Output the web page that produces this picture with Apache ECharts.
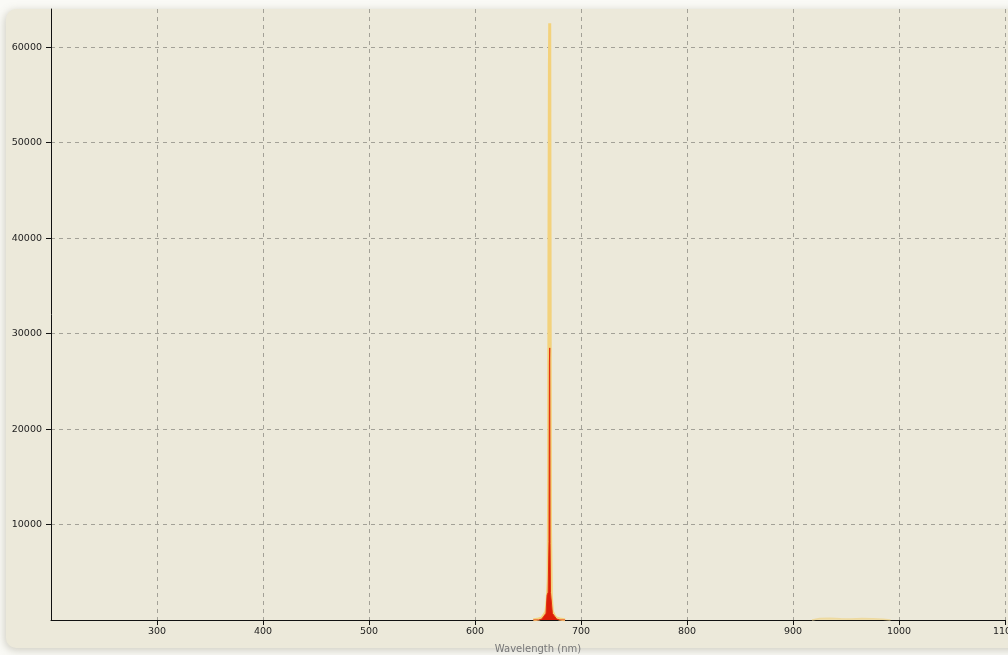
<!DOCTYPE html>
<html>
<head>
<meta charset="utf-8">
<script src="https://cdn.jsdelivr.net/npm/echarts@6/dist/echarts.min.js"></script>
<style>
  html, body { margin: 0; padding: 0; background: #fafaf6; }
  #chart { width: 1008px; height: 655px; }
</style>
</head>
<body>
<div id="chart"></div>
<script>
// Emission spectrum around the 670 nm line (intensity counts vs wavelength)
const peakWavelengths = [655, 660, 663, 665, 667, 668, 669, 669.5, 669.8, 670.2, 670.5, 670.8, 671.2, 672, 673, 675, 677, 680, 685];
const goldIntensity   = [0, 100, 200, 500, 900, 2000, 4000, 15000, 40000, 58000, 62500, 40000, 10000, 2500, 900, 400, 200, 100, 0];
const redIntensity    = [0, 0, 100, 400, 700, 2600, 2900, 3000, 8200, 27000, 28500, 8000, 2900, 2700, 700, 400, 100, 0, 0];

// Faint near-infrared band
const nirWavelengths = [918, 925, 935, 945, 955, 965, 975, 985, 992];
const nirIntensity   = [0, 150, 180, 120, 110, 150, 130, 80, 0];

const xTicks = [300, 400, 500, 600, 700, 800, 900, 1000, 1100];
const yTicks = [10000, 20000, 30000, 40000, 50000, 60000];

const pairs = (xs, ys) => xs.map((x, i) => [x, ys[i]]);
const goldData = pairs(peakWavelengths, goldIntensity);
const redData = pairs(peakWavelengths, redIntensity);
const nirData = pairs(nirWavelengths, nirIntensity);

const labelFont = { fontFamily: 'DejaVu Sans', fontSize: 9.5, color: '#222' };
const gridLine = { color: '#a3a197', type: [4, 4], width: 1 };

const chart = echarts.init(document.getElementById('chart'), null, { renderer: 'canvas' });
chart.setOption({
  backgroundColor: 'transparent',
  animation: false,
  graphic: [{
    type: 'rect',
    z: -10,
    silent: true,
    shape: { x: 6, y: 9, width: 1030, height: 639, r: 10 },
    style: {
      fill: '#ece9da',
      shadowBlur: 8,
      shadowColor: 'rgba(120,115,90,0.35)',
      shadowOffsetX: -1,
      shadowOffsetY: 2
    }
  }],
  grid: { left: 51, right: 3, top: 9, bottom: 35, outerBoundsMode: 'none', containLabel: false },
  xAxis: {
    type: 'value',
    min: 200,
    max: 1100,
    interval: 100,
    name: 'Wavelength (nm)',
    nameLocation: 'middle',
    nameGap: 24,
    nameTextStyle: { fontFamily: 'DejaVu Sans', fontSize: 10, color: '#777', padding: [0, 0, 0, 20] },
    axisLine: { show: true, onZero: false, lineStyle: { color: '#111', width: 1 } },
    axisTick: { show: true, length: 5, lineStyle: { color: '#111' } },
    axisLabel: Object.assign({ margin: 7, showMinLabel: false, showMaxLabel: true,
      formatter: v => xTicks.includes(v) ? String(v) : '' }, labelFont),
    splitLine: { show: true, showMinLine: false, lineStyle: gridLine }
  },
  yAxis: {
    type: 'value',
    min: 0,
    max: 64000,
    interval: 10000,
    axisLine: { show: true, lineStyle: { color: '#111', width: 1 } },
    axisTick: { show: true, length: 5, lineStyle: { color: '#111' } },
    axisLabel: Object.assign({ margin: 9, showMinLabel: false, showMaxLabel: false,
      formatter: v => yTicks.includes(v) ? String(v) : '' }, labelFont),
    splitLine: { show: true, showMinLine: false, showMaxLine: false, lineStyle: gridLine }
  },
  series: [
    {
      type: 'line',
      name: 'gold',
      data: goldData,
      showSymbol: false,
      lineStyle: { color: '#f3d27c', width: 3 },
      areaStyle: { color: '#f6dba0', opacity: 1 },
      z: 2
    },
    {
      type: 'line',
      name: 'gold-nir',
      data: nirData,
      showSymbol: false,
      lineStyle: { color: '#eedaa0', width: 1.5 },
      areaStyle: { color: '#efdfb0', opacity: 1 },
      z: 2
    },
    {
      type: 'line',
      name: 'red',
      data: redData,
      showSymbol: false,
      lineStyle: { color: '#e2300e', width: 1 },
      areaStyle: { color: '#dc1e08', opacity: 1 },
      z: 3
    }
  ]
});
</script>
</body>
</html>
